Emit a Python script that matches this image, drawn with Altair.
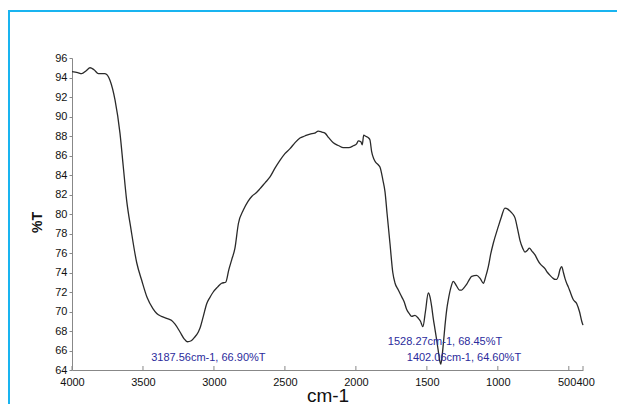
import altair as alt
import pandas as pd

# Spectrum (wavenumber cm-1, %T)
wavenumber = [4000, 3960, 3932, 3900, 3873, 3845, 3814, 3790, 3768, 3732, 3697, 3662, 3639, 3615,
              3584, 3544, 3509, 3470, 3430, 3403, 3370, 3333, 3300, 3274, 3239, 3210, 3188, 3160,
              3140, 3110, 3098, 3075, 3051, 3030, 3005, 2975, 2946, 2917, 2895, 2875, 2852, 2828,
              2793, 2760, 2734, 2700, 2675, 2640, 2605, 2570, 2535, 2500, 2464, 2430, 2394, 2360,
              2323, 2290, 2265, 2240, 2218, 2190, 2159, 2120, 2089, 2050, 2018, 1995, 1983, 1965,
              1955, 1945, 1935, 1910, 1901, 1889, 1875, 1865, 1840, 1830, 1810, 1795, 1780, 1760,
              1740, 1724, 1701, 1677, 1660, 1642, 1625, 1607, 1584, 1560, 1545, 1528, 1510, 1490,
              1478, 1466, 1455, 1443, 1430, 1420, 1410, 1402, 1392, 1382, 1372, 1360, 1349, 1330,
              1314, 1290, 1270, 1255, 1235, 1219, 1200, 1184, 1149, 1125, 1102, 1085, 1067, 1050,
              1032, 997, 975, 950, 930, 914, 895, 879, 860, 844, 825, 809, 790, 778, 760, 738, 720,
              703, 668, 650, 632, 610, 597, 585, 574, 562, 550, 538, 527, 515, 503, 485, 468, 444,
              425, 409, 400]
transmittance = [94.6, 94.5, 94.4, 94.7, 95.0, 94.8, 94.4, 94.4, 94.4, 93.7, 91.7, 88.3, 84.9, 81.4,
                 78.4, 75.0, 73.2, 71.4, 70.3, 69.8, 69.5, 69.3, 69.1, 68.7, 67.9, 67.2, 66.9, 67.0,
                 67.3, 67.9, 68.3, 69.5, 70.8, 71.4, 72.0, 72.5, 72.9, 73.0, 74.3, 75.3, 76.5, 79.0,
                 80.4, 81.3, 81.8, 82.2, 82.6, 83.2, 83.8, 84.7, 85.5, 86.2, 86.7, 87.3, 87.8, 88.0,
                 88.2, 88.3, 88.5, 88.4, 88.3, 87.8, 87.3, 87.0, 86.8, 86.8, 87.0, 87.2, 87.5, 87.4,
                 87.1, 88.1, 88.0, 87.8, 87.6, 86.4, 85.7, 85.4, 85.0, 84.8, 83.5, 82.3, 80.0, 77.0,
                 74.0, 72.9, 72.2, 71.5, 71.0, 70.2, 69.8, 69.5, 69.6, 69.3, 69.0, 68.45, 70.0, 71.9,
                 71.5, 70.5, 69.3, 68.2, 67.0, 66.0, 65.0, 64.6, 65.5, 67.0, 68.6, 70.2, 71.2, 72.5,
                 73.1, 72.6, 72.2, 72.2, 72.5, 72.8, 73.3, 73.6, 73.7, 73.4, 72.9, 73.6, 74.6, 75.9,
                 77.0, 78.7, 79.7, 80.6, 80.5, 80.3, 80.0, 79.6, 78.4, 77.3, 76.5, 76.1, 76.3, 76.5,
                 76.2, 75.8, 75.3, 74.9, 74.4, 74.0, 73.7, 73.4, 73.3, 73.3, 73.6, 74.3, 74.6, 74.0,
                 73.4, 72.9, 72.5, 71.8, 71.2, 70.8, 70.0, 69.0, 68.6]

# Peak annotations
peak_wn = [3187.56, 1528.27, 1402.06]
peak_t = [66.90, 68.45, 64.60]
peak_text = ["3187.56cm-1, 66.90%T", "1528.27cm-1, 68.45%T", "1402.06cm-1, 64.60%T"]

x_ticks = [4000, 3500, 3000, 2500, 2000, 1500, 1000, 500, 400]
y_ticks = list(range(64, 97, 2))

FONT = "Liberation Sans, Arial, sans-serif"
W, H = 511, 312

spec = pd.DataFrame({"wn": wavenumber, "t": transmittance})
peaks = pd.DataFrame({"wn": peak_wn, "t": peak_t, "label": peak_text})
ticks_df = pd.DataFrame({"wn": x_ticks})
one = pd.DataFrame({"k": [0]})

xscale = alt.Scale(domain=[4000, 400], nice=False, zero=False)
yscale = alt.Scale(domain=[64, 96], nice=False, zero=False)

x_axis = alt.Axis(values=x_ticks, format="d", title="cm-1", ticks=False,
                  labelOverlap=False, labelFlush=False, labelPadding=6,
                  labelAlign={"expr": "datum.value == 500 ? 'right' : datum.value == 400 ? 'left' : 'center'"},
                  labelOffset={"expr": "datum.value == 500 ? 7 : datum.value == 400 ? -7 : 0"},
                  titleFontSize=19, titleFontWeight="normal", titleFont=FONT,
                  titleY=31, titleBaseline="alphabetic", titleColor="#111")
y_axis = alt.Axis(values=y_ticks, format="d", title="%T", tickSize=3,
                  labelOverlap=False, labelFlush=False,
                  labelPadding=2, titleFontSize=14, titleFontWeight="bold",
                  titleFont=FONT, titleX=-35, titleY=164, titleAlign="center",
                  titleBaseline="middle", titleColor="#111")

X = lambda: alt.X("wn:Q", scale=xscale, axis=x_axis, title="cm-1")
Y = lambda: alt.Y("t:Q", scale=yscale, axis=y_axis, title="%T")

line = alt.Chart(spec).mark_line(color="#2a2a2a", strokeWidth=1.3, interpolate="monotone").encode(
    x=X(), y=Y(), order=alt.Order("idx:Q"),
).transform_window(idx="row_number()")

xticks = alt.Chart(ticks_df).mark_rule(color="#888888", strokeWidth=1).encode(
    x=X(), y=alt.value(H - 4), y2=alt.value(H),
)

ann_color = "#2b2b9c"
def ann(i, align, dx, dy):
    return alt.Chart(peaks.iloc[[i]]).mark_text(
        color=ann_color, fontSize=11, font=FONT, align=align, baseline="middle", dx=dx, dy=dy
    ).encode(x=X(), y=Y(), text="label:N")

ann1 = ann(0, "center", 21, 16)
ann2 = ann(1, "left", -35, 15)
ann3 = ann(2, "left", -34, -6)

frame_top = alt.Chart(one).mark_rule(color="#19b4f0", strokeWidth=2).encode(
    x=alt.value(-63), x2=alt.value(600), y=alt.value(-47))
frame_left = alt.Chart(one).mark_rule(color="#19b4f0", strokeWidth=2).encode(
    x=alt.value(-63), y=alt.value(-48), y2=alt.value(400))

chart = alt.layer(line, xticks, ann1, ann2, ann3, frame_top, frame_left).properties(
    width=W, height=H,
    autosize=alt.AutoSizeParams(type="none"),
    padding={"left": 64, "top": 50, "right": 34, "bottom": 34},
).configure_view(stroke=None).configure_axis(
    domainColor="#888888", tickColor="#888888", grid=False,
    labelFont=FONT, labelFontSize=11, labelColor="#111111",
)

chart.save("out.html", embed_options={"renderer": "svg", "actions": False})
